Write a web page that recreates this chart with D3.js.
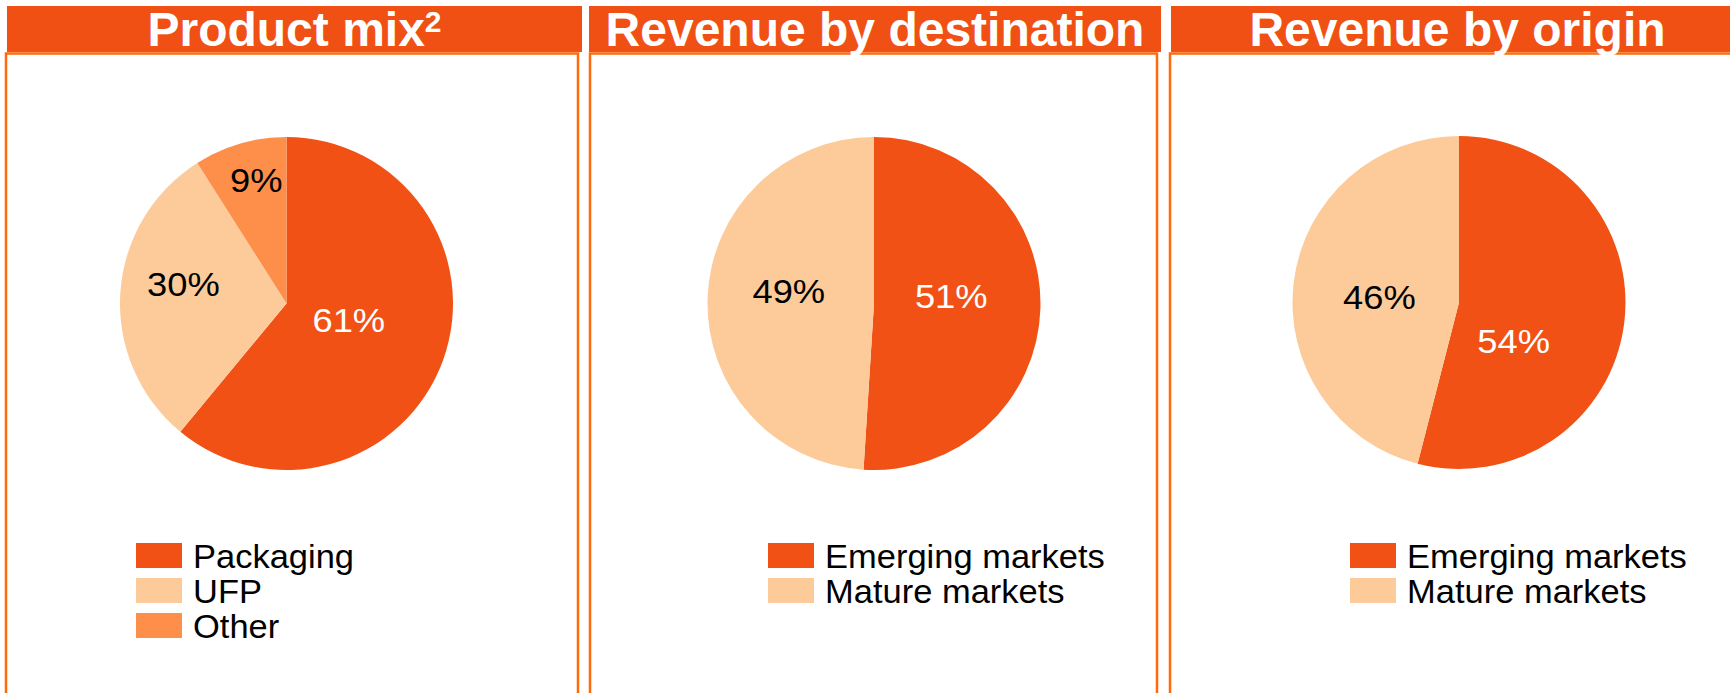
<!DOCTYPE html>
<html>
<head>
<meta charset="utf-8">
<script src="https://cdn.jsdelivr.net/npm/d3@7"></script>
<style>
	body { margin: 0; background: #fff; }
	svg { display: block; font-family: "Liberation Sans", Arial, sans-serif; }
</style>
</head>
<body>
<div id="chart"></div>
<script>
// Chart data
var titles = ["Product mix", "Revenue by destination", "Revenue by origin"];
var titleNotes = ["2", "", ""];
var mixCategories = ["Packaging", "UFP", "Other"];
var mixValues = [61, 30, 9];
var marketCategories = ["Emerging markets", "Mature markets"];
var destinationValues = [51, 49];
var originValues = [54, 46];

// Colours
var dark = "#f15115",
	light = "#fdcb9a",
	mid = "#fd8f4a";
var mixColors = [dark, light, mid];
var marketColors = [dark, light];

// Canvas parameters
var canvas = {
	width: 1730,
	height: 693,
	headerTop: 6,
	headerBottom: 52,
	boxTop: 53.5,
	radius: 166.5
};
// Pie value labels (source text is a bit wider than Liberation Sans)
var valueLabel = {
	fontSize: "33px",
	stretch: 1.1
};
// Legend
var legend = {
	top: 543,
	swatchW: 46,
	swatchH: 25,
	step: 35,
	gap: 11,
	fontSize: "33px",
	stretch: 1.045
};
// Per panel layout (label nudges are offsets from the slice centroid)
var panelLayout = [
	{ boxX0: 6, boxX1: 578, headX0: 7, headX1: 582, cx: 286.5, cy: 303.5, legendX: 136,
	  nudges: [[-16, -12], [-20, -14], [-7, -43]] },
	{ boxX0: 590, boxX1: 1157, headX0: 589, headX1: 1161, cx: 874, cy: 303.5, legendX: 768,
	  nudges: [[-6, -10], [-2, -10]] },
	{ boxX0: 1170, boxX1: 1760, headX0: 1171, headX1: 1744, cx: 1459, cy: 302.5, legendX: 1350,
	  nudges: [[-28, 28], [3, 5]] }
];

var panels = [
	{ categories: mixCategories, values: mixValues, colors: mixColors },
	{ categories: marketCategories, values: destinationValues, colors: marketColors },
	{ categories: marketCategories, values: originValues, colors: marketColors }
];

var svg = d3.select("#chart")
	.append("svg")
	.attr("width", canvas.width)
	.attr("height", canvas.height);

var pie = d3.pie().sort(null).value(function(d) { return d; });
var arc = d3.arc().innerRadius(0).outerRadius(canvas.radius);

panels.forEach(function(p, i) {
	var lay = panelLayout[i];
	var g = svg.append("g").attr("class", "panel");

	// Box outline (open at the bottom)
	g.append("path")
		.attr("d", "M" + lay.boxX0 + "," + (canvas.height + 10) +
			"V" + canvas.boxTop + "H" + lay.boxX1 + "V" + (canvas.height + 10))
		.attr("fill", "none")
		.attr("stroke", "#ff6a0a")
		.attr("stroke-width", 2.5);

	// Header band
	g.append("rect")
		.attr("x", lay.headX0)
		.attr("y", canvas.headerTop)
		.attr("width", lay.headX1 - lay.headX0)
		.attr("height", canvas.headerBottom - canvas.headerTop)
		.attr("fill", "#f05014");

	var title = g.append("text")
		.attr("x", (lay.headX0 + lay.headX1) / 2)
		.attr("y", 45.5)
		.attr("text-anchor", "middle")
		.attr("fill", "#fff")
		.attr("font-weight", "bold")
		.attr("font-size", "48px")
		.text(titles[i]);
	if (titleNotes[i]) {
		title.append("tspan")
			.attr("font-size", "30px")
			.attr("dy", -14)
			.text(titleNotes[i]);
	}

	// Pie
	var arcs = pie(p.values);
	var pg = g.append("g")
		.attr("transform", "translate(" + lay.cx + "," + lay.cy + ")");
	pg.selectAll("path.slice")
		.data(arcs)
		.enter()
		.append("path")
		.attr("class", "slice")
		.attr("d", arc)
		.attr("fill", function(d, j) { return p.colors[j]; });
	pg.selectAll("text.value")
		.data(arcs)
		.enter()
		.append("text")
		.attr("class", "value")
		.attr("transform", function(d, j) {
			var c = arc.centroid(d);
			return "translate(" + (c[0] + lay.nudges[j][0]) + "," + (c[1] + lay.nudges[j][1]) + ")" +
				" scale(" + valueLabel.stretch + ",1)";
		})
		.attr("dy", "0.36em")
		.attr("text-anchor", "middle")
		.attr("font-size", valueLabel.fontSize)
		.attr("fill", function(d, j) { return p.colors[j] === dark ? "#fff" : "#000"; })
		.text(function(d) { return d.data + "%"; });

	// Legend
	var y = d3.scaleBand()
		.domain(p.categories)
		.range([legend.top, legend.top + legend.step * p.categories.length]);
	var lg = g.selectAll("g.legend_item")
		.data(p.categories)
		.enter()
		.append("g")
		.attr("class", "legend_item");
	lg.append("rect")
		.attr("x", lay.legendX)
		.attr("y", function(d) { return y(d); })
		.attr("width", legend.swatchW)
		.attr("height", legend.swatchH)
		.attr("fill", function(d, j) { return p.colors[j]; });
	lg.append("text")
		.attr("transform", function(d) {
			return "translate(" + (lay.legendX + legend.swatchW + legend.gap) + "," +
				(y(d) + legend.swatchH) + ") scale(" + legend.stretch + ",1)";
		})
		.attr("font-size", legend.fontSize)
		.attr("fill", "#000")
		.text(function(d) { return d; });
});
</script>
</body>
</html>
